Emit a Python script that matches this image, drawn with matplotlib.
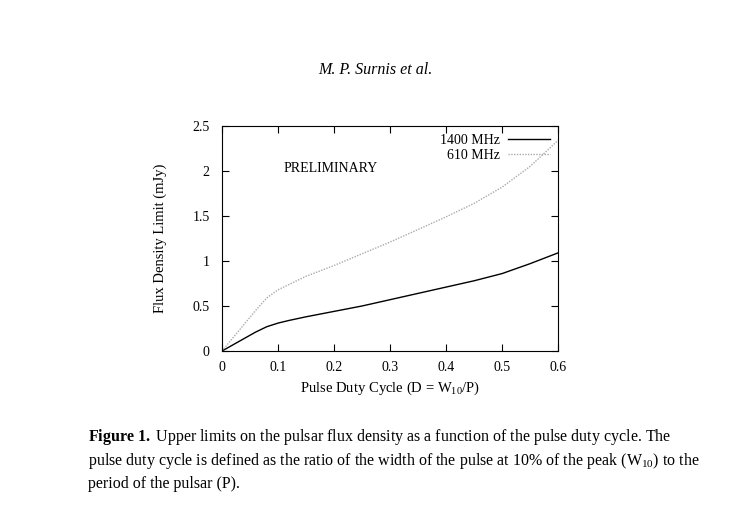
import matplotlib
matplotlib.use("Agg")
import matplotlib.pyplot as plt

duty = [0.0, 0.02, 0.04, 0.06, 0.08, 0.1, 0.12, 0.15, 0.2, 0.25, 0.3, 0.35, 0.4, 0.45, 0.5, 0.55, 0.6]
flux_1400 = [0.0, 0.07, 0.14, 0.21, 0.27, 0.31, 0.34, 0.38, 0.44, 0.50, 0.57, 0.64, 0.71, 0.78, 0.86, 0.97, 1.09]
flux_610 = [0.0, 0.15, 0.30, 0.45, 0.59, 0.68, 0.74, 0.83, 0.95, 1.08, 1.21, 1.35, 1.49, 1.64, 1.82, 2.05, 2.34]
xticks = [0, 0.1, 0.2, 0.3, 0.4, 0.5, 0.6]
yticks = [0, 0.5, 1, 1.5, 2, 2.5]

plt.rcParams['font.family'] = ['Liberation Serif', 'DejaVu Serif']
plt.rcParams['mathtext.fontset'] = 'custom'
plt.rcParams['mathtext.rm'] = 'Liberation Serif'
plt.rcParams['mathtext.it'] = 'Liberation Serif:italic'
plt.rcParams['mathtext.bf'] = 'Liberation Serif:bold'
fig = plt.figure(figsize=(7.41, 5.23), dpi=100)
ax = fig.add_axes([222/741, 1-351/523, 336/741, 225/523])
ax.plot(duty, flux_1400, color='black', lw=1.0, label='1400 MHz')
ax.plot(duty, flux_610, color='#aaaaaa', lw=1.0, ls=(0, (1, 1)), label='610 MHz')
ax.set_xlim(0, 0.6); ax.set_ylim(0, 2.5)
ax.set_xticks(xticks); ax.set_xticklabels(['0', '0.1', '0.2', '0.3', '0.4', '0.5', '0.6'])
ax.set_yticks(yticks); ax.set_yticklabels(['0', '0.5', '1', '1.5', '2', '2.5'])
ax.tick_params(direction='in', top=True, right=True, labelsize=10, length=5)
ax.tick_params(axis='y', pad=9)
ax.tick_params(axis='x', pad=7)
ax.set_xlabel(r'Pulse Duty Cycle (D = W$_{10}$/P)', fontsize=10.5, labelpad=4)
ax.set_ylabel('Flux Density Limit (mJy)', fontsize=10.5, labelpad=18)
ax.legend(loc='upper right', frameon=False, fontsize=10, markerfirst=False,
          handlelength=3, borderpad=0.1, labelspacing=0.1, handletextpad=0.6)
ax.text(0.11, 1.99, 'PRELIMINARY', fontsize=10)
fig.text(375/741, 1-70/523, 'M. P. Surnis et al.', ha='center', va='center', style='italic', fontsize=11.5)
fig.text(88/741, 1-437/523, r'$\mathbf{Figure\ 1.}$ Upper limits on the pulsar flux density as a function of the pulse duty cycle. The',
         fontsize=11.5, va='center')
fig.text(88/741, 1-461/523, r'pulse duty cycle is defined as the ratio of the width of the pulse at 10% of the peak (W$_{10}$) to the',
         fontsize=11.5, va='center')
fig.text(88/741, 1-484/523, 'period of the pulsar (P).', fontsize=11.5, va='center')
fig.savefig('out.png', dpi=100)
